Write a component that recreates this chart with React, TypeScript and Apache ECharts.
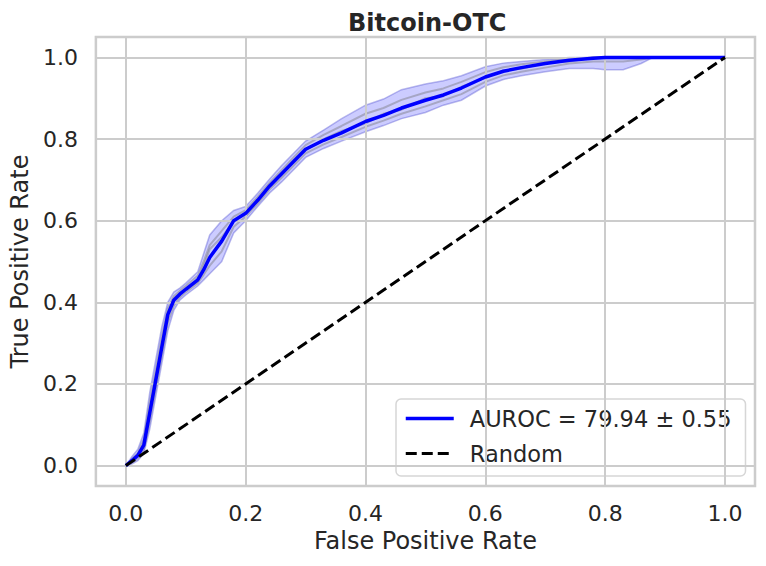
import React, { useEffect, useRef } from "react";
import * as echarts from "echarts";

const fpr = [0, 0.01, 0.02, 0.03, 0.04, 0.05, 0.06, 0.07, 0.08, 0.09, 0.1, 0.12, 0.13, 0.14, 0.16, 0.18, 0.2, 0.22, 0.24, 0.26, 0.28, 0.3, 0.33, 0.36, 0.4, 0.43, 0.46, 0.5, 0.53, 0.56, 0.6, 0.63, 0.66, 0.7, 0.74, 0.78, 0.8, 0.83, 0.86, 0.88, 0.9, 1.0];
const meanTpr = [0, 0.012, 0.025, 0.05, 0.13, 0.21, 0.29, 0.37, 0.405, 0.42, 0.432, 0.455, 0.48, 0.51, 0.55, 0.6, 0.618, 0.65, 0.685, 0.715, 0.745, 0.775, 0.797, 0.815, 0.843, 0.858, 0.876, 0.895, 0.908, 0.925, 0.952, 0.966, 0.975, 0.985, 0.993, 0.998, 1.0, 1.0, 1.0, 1.0, 1.0, 1.0];
const upperTpr = [0, 0.022, 0.04, 0.08, 0.18, 0.26, 0.34, 0.4, 0.425, 0.435, 0.447, 0.475, 0.52, 0.565, 0.6, 0.625, 0.635, 0.667, 0.702, 0.735, 0.765, 0.795, 0.822, 0.85, 0.883, 0.898, 0.921, 0.935, 0.943, 0.955, 0.977, 0.986, 0.99, 0.995, 1.0, 1.0, 1.0, 1.0, 1.0, 1.0, 1.0, 1.0];
const lowerTpr = [0, 0.004, 0.012, 0.03, 0.09, 0.17, 0.25, 0.33, 0.38, 0.405, 0.418, 0.44, 0.455, 0.47, 0.5, 0.57, 0.6, 0.635, 0.668, 0.695, 0.725, 0.755, 0.777, 0.795, 0.818, 0.833, 0.85, 0.865, 0.883, 0.895, 0.93, 0.946, 0.955, 0.965, 0.973, 0.973, 0.97, 0.97, 0.985, 1.0, 1.0, 1.0];
const runA = [0, 0.016, 0.03, 0.065, 0.155, 0.235, 0.315, 0.385, 0.415, 0.428, 0.44, 0.465, 0.5, 0.54, 0.575, 0.61, 0.626, 0.658, 0.693, 0.724, 0.755, 0.785, 0.81, 0.832, 0.862, 0.876, 0.896, 0.914, 0.924, 0.94, 0.964, 0.976, 0.983, 0.99, 0.997, 1.0, 1.0, 1.0, 1.0, 1.0, 1.0, 1.0];
const runB = [0, 0.008, 0.018, 0.04, 0.11, 0.19, 0.27, 0.35, 0.392, 0.412, 0.425, 0.447, 0.468, 0.49, 0.525, 0.585, 0.61, 0.642, 0.677, 0.705, 0.735, 0.765, 0.787, 0.805, 0.83, 0.845, 0.862, 0.88, 0.895, 0.91, 0.94, 0.956, 0.965, 0.975, 0.985, 0.99, 0.99, 0.99, 0.995, 1.0, 1.0, 1.0];
const runC = [0, 0.012, 0.024, 0.052, 0.135, 0.215, 0.295, 0.372, 0.408, 0.421, 0.433, 0.452, 0.49, 0.53, 0.56, 0.598, 0.62, 0.648, 0.688, 0.712, 0.748, 0.772, 0.8, 0.82, 0.838, 0.862, 0.872, 0.9, 0.905, 0.928, 0.95, 0.968, 0.972, 0.987, 0.99, 1.0, 1.0, 1.0, 1.0, 1.0, 1.0, 1.0];
const randomLine = [[0, 0], [1, 1]];
const xTicks = [0, 0.2, 0.4, 0.6, 0.8, 1.0];
const yTicks = [0, 0.2, 0.4, 0.6, 0.8, 1.0];

const TITLE = "Bitcoin-OTC";
const MEAN_NAME = "AUROC = 79.94 ± 0.55";
const RANDOM_NAME = "Random";

const FONT = "'DejaVu Sans', sans-serif";
const TEXT = "#262626";

export default function App() {
  const ref = useRef<HTMLDivElement>(null);
  useEffect(() => {
    document.body.style.margin = "0";
    const chart = echarts.init(ref.current!, null, { renderer: "svg" });
    const pair = (ys: number[]) => fpr.map((x, i) => [x, ys[i]]);
    const grayRun = (name: string, ys: number[]) => ({
      name,
      type: "line",
      data: pair(ys),
      symbol: "none",
      z: 3,
      lineStyle: { color: "rgba(110,110,110,0.4)", width: 2 },
      silent: true,
    });
    const gridLines = [
      ...xTicks.map((v) => ({ xAxis: v })),
      ...yTicks.map((v) => ({ yAxis: v })),
    ];
    chart.setOption({
      animation: false,
      title: {
        text: TITLE,
        left: 343,
        top: 6,
        textStyle: { fontFamily: FONT, fontSize: 24, fontWeight: "bold", color: TEXT },
      },
      grid: {
        left: 93,
        right: 11,
        top: 37,
        bottom: 80,
        show: true,
        borderColor: "#cccccc",
        borderWidth: 2.5,
        backgroundColor: "transparent",
      },
      legend: {
        data: [
          { name: MEAN_NAME, lineStyle: { width: 3.5, color: "#0000ff" } },
          { name: RANDOM_NAME, lineStyle: { width: 3, color: "#000000", type: [11, 5] } },
        ],
        orient: "vertical",
        left: 396,
        top: 399,
        padding: [8, 14, 11, 8],
        itemGap: 12,
        itemWidth: 48,
        itemHeight: 14,
        itemStyle: { opacity: 0 },
        backgroundColor: "rgba(255,255,255,0.8)",
        borderColor: "#d6d6d6",
        borderWidth: 1.5,
        borderRadius: 5,
        textStyle: { fontFamily: FONT, fontSize: 22.5, color: TEXT, padding: [0, 0, 0, 11] },
      },
      xAxis: {
        type: "value",
        min: -0.05,
        max: 1.05,
        name: "False Positive Rate",
        nameLocation: "middle",
        nameGap: 42,
        nameTextStyle: { fontFamily: FONT, fontSize: 24, color: TEXT },
        axisLine: { show: false },
        axisTick: { show: false },
        splitLine: { show: false },
        axisLabel: {
          customValues: xTicks,
          formatter: (v: number) => v.toFixed(1),
          fontFamily: FONT,
          fontSize: 22,
          color: TEXT,
          margin: 16,
        },
      },
      yAxis: {
        type: "value",
        min: -0.05,
        max: 1.05,
        name: "True Positive Rate",
        nameLocation: "middle",
        nameGap: 60,
        nameTextStyle: { fontFamily: FONT, fontSize: 24, color: TEXT },
        axisLine: { show: false },
        axisTick: { show: false },
        splitLine: { show: false },
        axisLabel: {
          customValues: yTicks,
          formatter: (v: number) => v.toFixed(1),
          fontFamily: FONT,
          fontSize: 22,
          color: TEXT,
          margin: 18,
        },
      },
      series: [
        {
          name: "grid",
          type: "line",
          data: [],
          z: 1,
          silent: true,
          markLine: {
            silent: true,
            symbol: ["none", "none"],
            label: { show: false },
            lineStyle: { color: "#cccccc", width: 2, type: "solid" },
            data: gridLines,
          },
        },
        {
          name: "band",
          type: "custom",
          z: 2,
          silent: true,
          data: [[0, 0]],
          encode: { x: 0, y: 1 },
          renderItem: (params: any, api: any) => {
            const up = fpr.map((x, i) => api.coord([x, upperTpr[i]]));
            const lo = fpr.map((x, i) => api.coord([x, lowerTpr[i]])).reverse();
            return {
              type: "polygon",
              shape: { points: up.concat(lo) },
              style: { fill: "rgba(0,0,255,0.2)", stroke: "rgba(60,60,200,0.35)", lineWidth: 1.5 },
            };
          },
        },
        grayRun("runA", runA),
        grayRun("runB", runB),
        grayRun("runC", runC),
        {
          name: MEAN_NAME,
          type: "line",
          data: pair(meanTpr),
          symbol: "none",
          z: 5,
          lineStyle: { color: "#0000ff", width: 3.5 },
          itemStyle: { color: "#0000ff" },
        },
        {
          name: RANDOM_NAME,
          type: "line",
          data: randomLine,
          symbol: "none",
          z: 6,
          lineStyle: { color: "#000000", width: 3, type: [11, 5] },
          itemStyle: { color: "#000000" },
        },
      ],
    });
    return () => chart.dispose();
  }, []);
  return <div ref={ref} style={{ width: 766, height: 566 }} />;
}
